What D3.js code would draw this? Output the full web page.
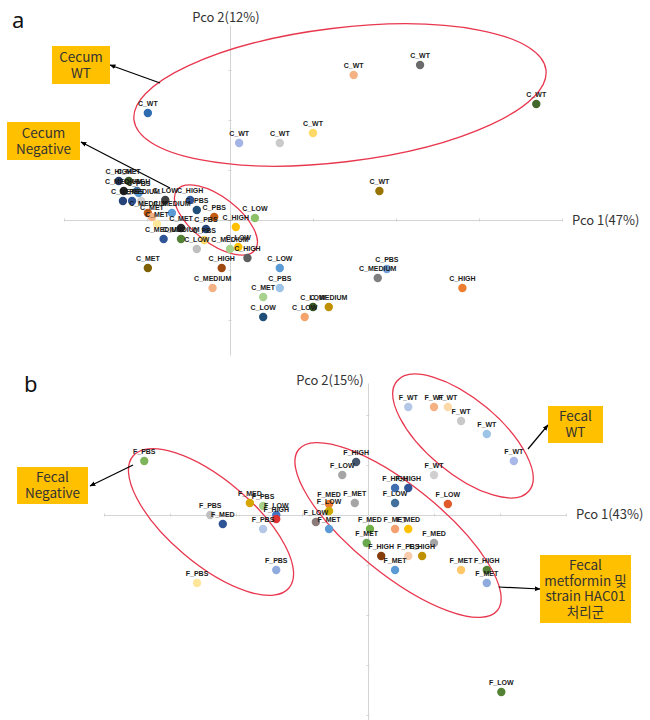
<!DOCTYPE html>
<html>
<head>
<meta charset="utf-8">
<script src="https://cdn.jsdelivr.net/npm/d3@7"></script>
<style>
  body { margin: 0; background: #fff; }
  svg { display: block; }
  .pt-label { font-family: "Liberation Sans", Arial, sans-serif; font-size: 7px; font-weight: bold; fill: #1a1a1a; }
  .axis-title { font-family: "Noto Sans CJK KR", "Noto Sans", sans-serif; font-size: 13px; fill: #333; }
  .box-text { font-family: "Noto Sans CJK KR", "Noto Sans", sans-serif; font-size: 13.5px; fill: #333; }
  .panel-tag { font-family: "Noto Sans", sans-serif; font-size: 22px; fill: #111; }
</style>
</head>
<body>
<div id="chart"></div>
<script>
/* ---------- data: panel a (cecum) ---------- */
var cecumLabels = ["C_WT","C_WT","C_WT","C_WT","C_WT","C_WT","C_WT","C_WT",
  "C_PBS","C_LOW","C_HIGH","C_PBS","C_MEDIUM","C_MEDIUM","C_PBS","C_LOW",
  "C_MEDIUM","C_LOW","C_HIGH","C_MET","C_HIGH","C_MEDIUM","C_LOW","C_PBS",
  "C_MET","C_LOW","C_LOW","C_LOW","C_MEDIUM","C_PBS","C_MEDIUM","C_HIGH",
  "C_HIGH","C_MET","C_MEDIUM","C_HIGH","C_MET","C_PBS","C_PBS","C_MEDIUM",
  "C_LOW","C_HIGH","C_PBS","C_MEDIUM","C_MET","C_MET","C_MEDIUM","C_MET"];
var cecumX = [-0.099,0.011,0.060,0.100,0.149,0.229,0.369,0.180,
  -0.019,0.030,0.007,-0.029,-0.080,-0.059,-0.031,-0.040,
  0.000,0.010,0.021,-0.099,-0.010,-0.021,0.060,0.060,
  0.040,0.040,0.090,0.100,0.119,0.189,0.178,0.280,
  -0.134,-0.122,-0.128,-0.112,-0.129,-0.118,-0.110,-0.107,
  -0.078,-0.048,-0.040,-0.099,-0.094,-0.088,-0.070,-0.059];
var cecumY = [0.214,0.154,0.154,0.174,0.290,0.310,0.232,0.058,
  0.006,0.004,-0.014,-0.018,-0.038,-0.038,-0.040,-0.058,
  -0.058,-0.054,-0.076,-0.096,-0.096,-0.136,-0.096,-0.136,
  -0.154,-0.194,-0.194,-0.174,-0.174,-0.098,-0.116,-0.136,
  0.078,0.078,0.058,0.058,0.038,0.038,0.054,0.038,
  0.040,0.040,0.020,0.014,0.006,-0.008,0.014,-0.016];
var cecumColors = ["#2E6BB0","#A4B4E4","#CACACA","#FFD966","#F4B183","#6B6B6B","#43682B","#997300",
  "#C55A11","#8CC168","#FFC000","#264478","#2F5597","#548235","#FFD966","#BFBFBF",
  "#A9D18E","#FFC000","#5E5E5E","#7F6000","#9E480E","#F4B183","#5B9BD5","#9DC3E6",
  "#A9D18E","#1F4E79","#F4A46A","#375623","#BF9000","#6F9FD8","#7F7F7F","#ED7D31",
  "#203864","#385723","#262626","#41719C","#264478","#2F5597","#5B9BD5","#D0D0D0",
  "#404040","#2F5597","#1F4E79","#C55A11","#F4B183","#FFE699","#5B9BD5","#262626"];

/* ---------- data: panel b (fecal) ---------- */
var fecalLabels = ["F_WT","F_WT","F_WT","F_WT","F_WT","F_WT","F_WT",
  "F_HIGH","F_LOW","F_HIGH","F_HIGH","F_LOW","F_LOW","F_MED","F_LOW",
  "F_MET","F_LOW","F_MET","F_MED","F_MET","F_MET","F_MED","F_MED",
  "F_HIGH","F_PBS","F_HIGH","F_MET","F_MET","F_HIGH","F_MET","F_LOW",
  "F_PBS","F_MED","F_PBS","F_LOW","F_HIGH","F_PBS","F_MED","F_PBS","F_PBS","F_PBS"];
var fecalX = [0.061,0.100,0.121,0.141,0.180,0.221,0.100,
  -0.018,-0.039,0.041,0.061,0.041,0.121,-0.059,-0.059,
  -0.020,-0.079,-0.059,0.003,-0.002,0.041,0.061,0.100,
  0.020,0.061,0.082,0.041,0.141,0.180,0.180,0.202,
  -0.339,-0.179,-0.159,-0.139,-0.139,-0.239,-0.220,-0.159,-0.139,-0.259];
var fecalY = [0.216,0.216,0.216,0.188,0.162,0.108,0.080,
  0.106,0.080,0.054,0.054,0.024,0.022,0.022,0.008,
  0.024,-0.014,-0.028,-0.028,-0.056,-0.028,-0.028,-0.056,
  -0.082,-0.082,-0.082,-0.110,-0.110,-0.110,-0.136,-0.354,
  0.108,0.024,0.018,0.000,-0.008,0.000,-0.018,-0.028,-0.110,-0.136];
var fecalColors = ["#B4C7E7","#F4B183","#FBD9A8","#C9C9C9","#9DC3E6","#A9B8E8","#D0CECE",
  "#44546A","#A5A5A5","#3F6FB0","#2F5597","#41719C","#E0592B","#ED7D31","#CCAA00",
  "#A5A5A5","#8B7B7B","#5B9BD5","#70AD47","#6AA84F","#F4A070","#FFC000","#A5A5A5",
  "#843C0C","#F8CBAD","#BF9000","#5B9BD5","#FFC766","#548235","#8FAADC","#548235",
  "#7FB55A","#D6A500","#A9D18E","#4472C4","#E03030","#BFBFBF","#2F5597","#B4C7E7","#8FAADC","#FFE699"];

/* group ellipses: major-axis ends in data units */
var cecumGroupFrom = [[-0.1157, 0.200], [-0.0639, 0.060]];
var cecumGroupTo   = [[ 0.3807, 0.300], [ 0.0301, -0.060]];
var fecalGroupFrom = [[0.0439, 0.268], [-0.356, 0.118], [-0.105, 0.131]];
var fecalGroupTo   = [[0.2439, 0.048], [-0.1197, -0.146], [0.196, -0.191]];

/* axis titles and callouts */
var cecumAxisTitles = ["Pco 1(47%)", "Pco 2(12%)"];
var fecalAxisTitles = ["Pco 1(43%)", "Pco 2(15%)"];
var cecumCallouts = [["Cecum", "WT"], ["Cecum", "Negative"]];
var fecalCallouts = [["Fecal", "WT"], ["Fecal", "Negative"], ["Fecal", "metformin 및", "strain HAC01", "처리군"]];
var cecumArrowFrom = [[-0.0843, 0.274], [-0.0723, 0.064]];
var fecalArrowFrom = [[0.2424, 0.132], [-0.356, 0.100], [0.198, -0.144]];
var axisTicks = [-0.4, -0.3, -0.2, -0.1, 0, 0.1, 0.2, 0.3, 0.4];

/************ drawing ************/
var width = 650, height = 720;

var svg = d3.select("#chart").append("svg")
  .attr("width", width)
  .attr("height", height);

svg.append("rect").attr("width", width).attr("height", height).attr("fill", "#fff");

var defs = svg.append("defs");
defs.append("marker")
  .attr("id", "arrow")
  .attr("viewBox", "0 0 10 10")
  .attr("refX", 9).attr("refY", 5)
  .attr("markerWidth", 5).attr("markerHeight", 5)
  .attr("orient", "auto")
  .append("path")
    .attr("d", "M0,1 L10,5 L0,9 z")
    .attr("fill", "#000");

// scales
var xA = d3.scaleLinear().domain([-0.2, 0.4]).range([64, 562]);
var yA = d3.scaleLinear().domain([-0.27, 0.39]).range([355, 25]);
var xB = d3.scaleLinear().domain([-0.4, 0.3]).range([104, 566]);
var yB = d3.scaleLinear().domain([-0.41, 0.264]).range([720, 383]);

function drawAxes(g, x, y, titles, xTitlePos, yTitlePos) {
  var xt = axisTicks.filter(function(t){ return t >= x.domain()[0] - 1e-9 && t <= x.domain()[1] + 1e-9; });
  var yt = axisTicks.filter(function(t){ return t >= y.domain()[0] && t <= y.domain()[1]; });

  var ax = g.append("g")
    .attr("transform", "translate(0," + y(0) + ")")
    .call(d3.axisBottom(x).tickValues(xt).tickSizeInner(3).tickSizeOuter(0).tickFormat(""));
  ax.select(".domain").attr("stroke", "#d4d4d4");
  ax.selectAll(".tick line").attr("stroke", "#d4d4d4").attr("y1", -1.5).attr("y2", 1.5);

  var ay = g.append("g")
    .attr("transform", "translate(" + x(0) + ",0)")
    .call(d3.axisLeft(y).tickValues(yt).tickSizeInner(3).tickSizeOuter(0).tickFormat(""));
  ay.select(".domain").attr("stroke", "#d4d4d4");
  ay.selectAll(".tick line").attr("stroke", "#d4d4d4").attr("x1", -1.5).attr("x2", 1.5);

  g.append("text").attr("class", "axis-title")
    .attr("x", xTitlePos[0]).attr("y", xTitlePos[1])
    .text(titles[0]);
  g.append("text").attr("class", "axis-title")
    .attr("x", yTitlePos[0]).attr("y", yTitlePos[1])
    .attr("text-anchor", "middle")
    .text(titles[1]);
}

function drawEllipses(g, x, y, from, to, halfWidths) {
  from.forEach(function(p, i) {
    var x1 = x(p[0]), y1 = y(p[1]), x2 = x(to[i][0]), y2 = y(to[i][1]);
    var cx = (x1 + x2) / 2, cy = (y1 + y2) / 2;
    var rx = Math.sqrt((x2 - x1) * (x2 - x1) + (y2 - y1) * (y2 - y1)) / 2;
    var ang = Math.atan2(y2 - y1, x2 - x1) * 180 / Math.PI;
    g.append("ellipse")
      .attr("cx", 0).attr("cy", 0)
      .attr("rx", rx).attr("ry", halfWidths[i])
      .attr("transform", "translate(" + cx + "," + cy + ") rotate(" + ang + ")")
      .attr("fill", "none")
      .attr("stroke", "#E8384F")
      .attr("stroke-width", 1.3);
  });
}

function drawPoints(g, x, y, xs, ys, labels, colors) {
  var idx = d3.range(xs.length);
  g.selectAll(".dot")
    .data(idx)
    .enter().append("circle")
      .attr("class", "dot")
      .attr("cx", function(i){ return x(xs[i]); })
      .attr("cy", function(i){ return y(ys[i]); })
      .attr("r", 4.2)
      .attr("fill", function(i){ return colors[i]; });
  g.selectAll(".pt-label")
    .data(idx)
    .enter().append("text")
      .attr("class", "pt-label")
      .attr("x", function(i){ return x(xs[i]); })
      .attr("y", function(i){ return y(ys[i]) - 7.5; })
      .attr("text-anchor", "middle")
      .text(function(i){ return labels[i]; });
}

function drawCallouts(g, x, y, texts, boxes, arrowFrom, arrowTo, lineGap) {
  texts.forEach(function(lines, i) {
    var b = boxes[i];
    g.append("line")
      .attr("x1", x(arrowFrom[i][0])).attr("y1", y(arrowFrom[i][1]))
      .attr("x2", arrowTo[i][0]).attr("y2", arrowTo[i][1])
      .attr("stroke", "#000").attr("stroke-width", 1.2)
      .attr("marker-end", "url(#arrow)");
    g.append("rect")
      .attr("x", b[0]).attr("y", b[1]).attr("width", b[2]).attr("height", b[3])
      .attr("fill", "#FFC000");
    var cy = b[1] + b[3] / 2 - (lines.length - 1) * lineGap / 2;
    lines.forEach(function(t, j) {
      g.append("text").attr("class", "box-text")
        .attr("x", b[0] + b[2] / 2)
        .attr("y", cy + j * lineGap)
        .attr("dy", "0.35em")
        .attr("text-anchor", "middle")
        .text(t);
    });
  });
}

/* ---- panel a ---- */
var gA = svg.append("g");
gA.append("text").attr("class", "panel-tag").attr("x", 12).attr("y", 28).text("a");
drawAxes(gA, xA, yA, cecumAxisTitles, [572, 225], [226, 22]);
drawEllipses(gA, xA, yA, cecumGroupFrom, cecumGroupTo, [67, 23]);
drawPoints(gA, xA, yA, cecumX, cecumY, cecumLabels, cecumColors);
drawCallouts(gA, xA, yA, cecumCallouts,
  [[52, 46, 58, 38], [7, 122, 73, 38]],
  cecumArrowFrom, [[110, 65], [81, 142]], 16);

/* ---- panel b ---- */
var gB = svg.append("g");
gB.append("text").attr("class", "panel-tag").attr("x", 24).attr("y", 392).text("b");
drawAxes(gB, xB, yB, fecalAxisTitles, [576, 519], [330, 385]);
drawEllipses(gB, xB, yB, fecalGroupFrom, fecalGroupTo, [37, 42, 44]);
drawPoints(gB, xB, yB, fecalX, fecalY, fecalLabels, fecalColors);
drawCallouts(gB, xB, yB, fecalCallouts,
  [[548, 406, 55, 37], [17, 467, 71, 37], [540, 555, 91, 68]],
  fecalArrowFrom, [[548, 425], [90, 486], [540, 589]], 15.5);
</script>
</body>
</html>
